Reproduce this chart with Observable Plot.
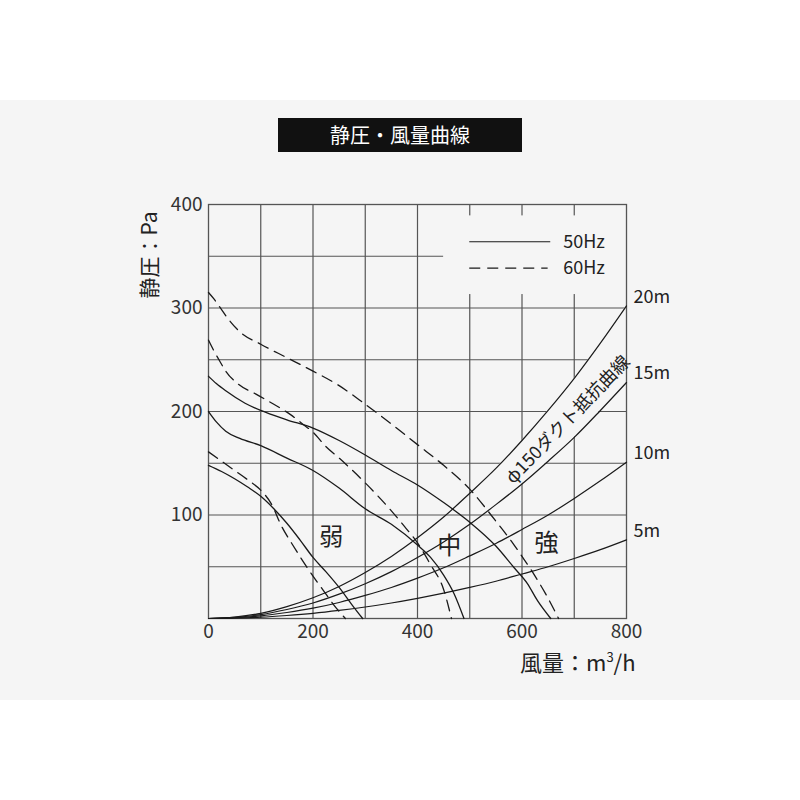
<!DOCTYPE html>
<html>
<head>
<meta charset="utf-8">
<script src="https://cdn.jsdelivr.net/npm/d3@7"></script>
<script src="https://cdn.jsdelivr.net/npm/@observablehq/plot@0.6"></script>
<style>
  body { margin: 0; background: #fff; font-family: "Noto Sans CJK JP", "Noto Sans", sans-serif; }
  #wrap { position: relative; width: 800px; height: 800px; background: #fff; overflow: hidden; }
  #band { position: absolute; left: 0; top: 100px; width: 800px; height: 600px; background: #f5f5f5; }
  #title { position: absolute; left: 278px; top: 118px; width: 244px; height: 34px; background: #111; color: #fff;
           font-size: 20px; line-height: 34px; text-align: center; }
  #chart { position: absolute; left: 0; top: 150px; }
  #ylab { position: absolute; left: 148px; top: 255px; transform: translate(-50%, -50%) rotate(-90deg);
          font-size: 21px; color: #222; white-space: nowrap; }
  #xlab { position: absolute; left: 520px; top: 645px; font-size: 22px; color: #222; white-space: nowrap; }
  #xlab sup { font-size: 13px; vertical-align: 9px; }
</style>
</head>
<body>
<div id="wrap">
  <div id="band"></div>
  <div id="title">静圧・風量曲線</div>
  <div id="chart"></div>
  <div id="ylab">静圧：Pa</div>
  <div id="xlab">風量：m<sup>3</sup>/h</div>
</div>
<script>
// ---- data ----
const xTicks = [0, 200, 400, 600, 800];
const yTicks = [100, 200, 300, 400];
const xGrid = [100, 200, 300, 400, 500, 600, 700];
const yGrid = [50, 100, 150, 200, 250, 300, 350];

// duct resistance curves (φ150), airflow m3/h
const ductX   = [0, 50, 100, 150, 200, 250, 300, 350, 400, 450, 500, 550, 600, 650, 700, 750, 800];
const duct5m  = [0, 0.35, 1.25, 2.9, 5, 7.8, 11.1, 15, 19.5, 24.5, 30, 36, 43, 50, 58, 66.5, 76];
const duct10m = [0, 0.7, 2.5, 5.8, 10, 15.5, 22.3, 30, 39, 49, 60.5, 72.5, 86, 100, 116, 133, 151];
const duct15m = [0, 1, 3.8, 8.7, 15, 23.5, 33.6, 45.3, 59, 74, 91, 110, 130, 152, 175, 201, 228];
const duct20m = [0, 1.4, 5, 11.5, 20, 31, 44.5, 60, 78, 98, 121, 145, 172, 201, 232, 266, 302];
const ductNames = ["5m", "10m", "15m", "20m"];

// fan curves [airflow, static pressure]
const weak50 = [[0,148],[25,142],[50,135],[75,127],[100,118],[125,106],[150,92],[175,76],[200,59],[225,45],[250,30],[275,13],[295,0]];
const weak60 = [[0,161],[25,152],[50,143],[75,134],[100,124],[120,111],[140,89],[160,72],[180,56],[200,41],[220,27],[240,13],[262,0]];
const mid50 = [[0,200],[15,190],[33,181],[60,174],[100,167],[150,155],[200,143],[250,126],[300,106],[350,91],[400,71],[425,59],[450,42],[470,24],[489,0]];
const mid60 = [[0,269],[10,259],[20,250],[33,239],[58,226],[90,217],[125,207],[157,197],[180,188],[200,180],[225,166],[250,155],[300,131],[350,104],[375,89],[400,73],[425,52],[450,28],[465,0]];
const strong50 = [[0,234],[15,227],[33,220],[70,208],[100,201],[150,192],[200,184],[250,172],[300,158],[350,143],[400,129],[450,112],[500,93],[550,70],[585,49],[610,34],[630,17],[655,0]];
const strong60 = [[0,315],[10,309],[20,302],[40,288],[60,277],[100,265],[150,252],[200,239],[250,225],[300,207],[350,188],[400,168],[450,148],[500,125],[550,94],[585,71],[600,60],[625,41],[645,24],[670,0]];

const regionLabels = [{t: "弱", x: 235, y: 78}, {t: "中", x: 461, y: 70}, {t: "強", x: 647, y: 73}];
const bandLabel = "φ150ダクト抵抗曲線";
const legendItems = ["50Hz", "60Hz"];

// ---- build ----
const bg = "#f5f5f5";
const gridColor = "#555";
const ink = "#1a1a1a";
const dash = "11,7";

const ducts = [duct5m, duct10m, duct15m, duct20m].map((arr, k) => ({
  name: ductNames[k],
  pts: ductX.map((x, i) => [x, arr[i]])
}));
const bandMask = ductX.map((x, i) => ({x, lo: duct15m[i], hi: duct20m[i]})).filter(d => d.x >= 550);
const ductEnds = ducts.map(d => ({name: d.name, x: d.pts[d.pts.length - 1][0], y: d.pts[d.pts.length - 1][1]}));

const fans = [
  {pts: weak50, dashed: false}, {pts: weak60, dashed: true},
  {pts: mid50, dashed: false}, {pts: mid60, dashed: true},
  {pts: strong50, dashed: false}, {pts: strong60, dashed: true}
];

const marks = [
  Plot.ruleX(xGrid, {stroke: gridColor, strokeWidth: 1.2}),
  Plot.ruleY(yGrid, {stroke: gridColor, strokeWidth: 1.2}),
  // legend area cleared
  Plot.rect([0], {x1: 450, x2: 800, y1: 313, y2: 389, fill: bg}),
  // band behind duct label cleared
  Plot.areaY(bandMask, {x: "x", y1: "lo", y2: "hi", fill: bg, curve: "monotone-x"}),
  Plot.frame({stroke: gridColor, strokeWidth: 1.3}),
  ...ducts.map(d => Plot.line(d.pts, {stroke: ink, strokeWidth: 1.2, curve: "monotone-x"})),
  ...fans.map(f => Plot.line(f.pts, {stroke: ink, strokeWidth: 1.3, curve: "monotone-x",
                                     strokeDasharray: f.dashed ? dash : null})),
  Plot.text(ductEnds, {x: "x", y: "y", text: "name", dx: 7, dy: -9, textAnchor: "start", fontSize: 18, fill: "#222"}),
  Plot.text(regionLabels, {x: "x", y: "y", text: "t", fontSize: 24, fill: "#222"}),
  Plot.text([bandLabel], {x: 688, y: 192, text: d => d, rotate: -46, fontSize: 18, fill: "#222"}),
  // legend
  Plot.ruleY([364], {x1: 500, x2: 655, stroke: ink, strokeWidth: 1.2}),
  Plot.ruleY([338.5], {x1: 500, x2: 650, stroke: ink, strokeWidth: 1.2, strokeDasharray: dash}),
  Plot.text(legendItems, {x: 679, y: [364, 338.5], text: d => d, textAnchor: "start", fontSize: 18, fill: "#222"}),
  Plot.axisX({ticks: xTicks, tickSize: 0, tickPadding: 6, fontSize: 19, fill: "#333", label: null}),
  Plot.axisY({ticks: yTicks, tickSize: 0, tickPadding: 6, fontSize: 19, fill: "#333", label: null})
];

const chart = Plot.plot({
  width: 800,
  height: 520,
  marginLeft: 208,
  marginRight: 174,
  marginTop: 54,
  marginBottom: 52,
  x: {domain: [0, 800]},
  y: {domain: [0, 400]},
  style: {background: "transparent", fontFamily: '"Noto Sans CJK JP", "Noto Sans", sans-serif', color: "#222", overflow: "visible"},
  marks
});
document.getElementById("chart").appendChild(chart);
</script>
</body>
</html>
